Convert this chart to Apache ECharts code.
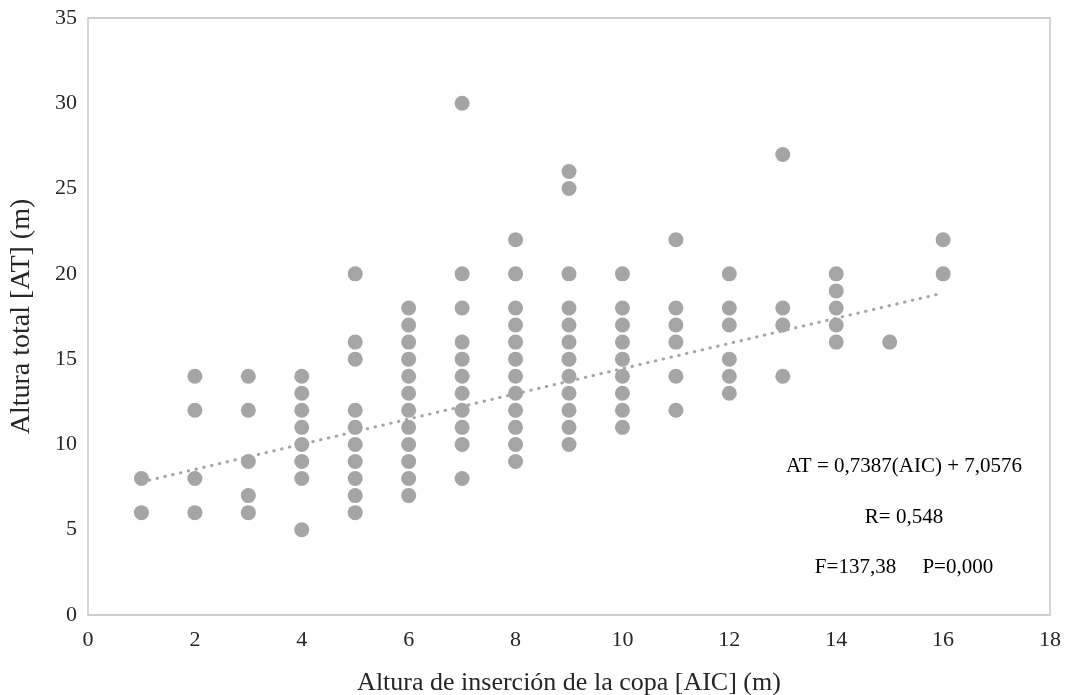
<!DOCTYPE html>
<html>
<head>
<meta charset="utf-8">
<script src="https://cdn.jsdelivr.net/npm/echarts@6/dist/echarts.min.js"></script>
<style>
html,body{margin:0;padding:0;background:#fff;}
#chart{width:1070px;height:695px;}
</style>
</head>
<body>
<div id="chart"></div>
<script>
// AIC (x) values and the AT (y) values observed at each
const xValues = [1, 2, 3, 4, 5, 6, 7, 8, 9, 10, 11, 12, 13, 14, 15, 16];
const yByX = [
  [8, 6],
  [14, 12, 8, 6],
  [14, 12, 9, 7, 6],
  [14, 13, 12, 11, 10, 9, 8, 5],
  [20, 16, 15, 12, 11, 10, 9, 8, 7, 6],
  [18, 17, 16, 15, 14, 13, 12, 11, 10, 9, 8, 7],
  [30, 20, 18, 16, 15, 14, 13, 12, 11, 10, 8],
  [22, 20, 18, 17, 16, 15, 14, 13, 12, 11, 10, 9],
  [26, 25, 20, 18, 17, 16, 15, 14, 13, 12, 11, 10],
  [20, 18, 17, 16, 15, 14, 13, 12, 11],
  [22, 18, 17, 16, 14, 12],
  [20, 18, 17, 15, 14, 13],
  [27, 18, 17, 14],
  [20, 19, 18, 17, 16],
  [16],
  [22, 20]
];
// Linear trend endpoints (AT = 0,7387(AIC) + 7,0576)
const trendX = [1, 16];
const trendY = [7.7963, 18.8768];
const annotations = ["AT = 0,7387(AIC) + 7,0576", "R= 0,548", "F=137,38     P=0,000"];
const xAxisTitle = "Altura de inserción de la copa [AIC] (m)";
const yAxisTitle = "Altura total [AT] (m)";

const points = [];
xValues.forEach((x, i) => yByX[i].forEach(y => points.push([x, y])));
const trend = trendX.map((x, i) => [x, trendY[i]]);

const font = "'Liberation Serif', 'Times New Roman', serif";
const txt = '#262626';
const chart = echarts.init(document.getElementById('chart'));
chart.setOption({
  animation: false,
  backgroundColor: '#fff',
  grid: { left: 88, right: 20, top: 18, bottom: 80, show: true, borderColor: '#bfbfbf', borderWidth: 1.3, containLabel: false, outerBoundsMode: 'none' },
  xAxis: {
    type: 'value', min: 0, max: 18, interval: 2,
    name: xAxisTitle, nameLocation: 'middle', nameGap: 55,
    nameTextStyle: { fontFamily: font, fontSize: 26, color: txt },
    axisLine: { show: false }, axisTick: { show: false }, splitLine: { show: false },
    axisLabel: { fontFamily: font, fontSize: 22, color: txt, margin: 14 }
  },
  yAxis: {
    type: 'value', min: 0, max: 35, interval: 5,
    name: yAxisTitle, nameLocation: 'middle', nameGap: 52,
    nameTextStyle: { fontFamily: font, fontSize: 28, color: txt },
    axisLine: { show: false }, axisTick: { show: false }, splitLine: { show: false },
    axisLabel: { fontFamily: font, fontSize: 22, color: txt, margin: 11 }
  },
  series: [
    {
      type: 'scatter', data: points, symbolSize: 15,
      itemStyle: { color: '#a5a5a5', opacity: 1 }, z: 2
    },
    {
      type: 'line', data: trend, symbol: 'none',
      lineStyle: { color: '#a5a5a5', width: 3, type: [0.5, 7.5], cap: 'round' }, z: 3
    }
  ],
  graphic: [
    { type: 'text', x: 904, y: 466, style: { text: annotations[0], font: "21px " + font, fill: '#000', textAlign: 'center', textVerticalAlign: 'middle' } },
    { type: 'text', x: 904, y: 517, style: { text: annotations[1], font: "21px " + font, fill: '#000', textAlign: 'center', textVerticalAlign: 'middle' } },
    { type: 'text', x: 904, y: 567, style: { text: annotations[2], font: "21px " + font, fill: '#000', textAlign: 'center', textVerticalAlign: 'middle' } }
  ]
});
</script>
</body>
</html>
